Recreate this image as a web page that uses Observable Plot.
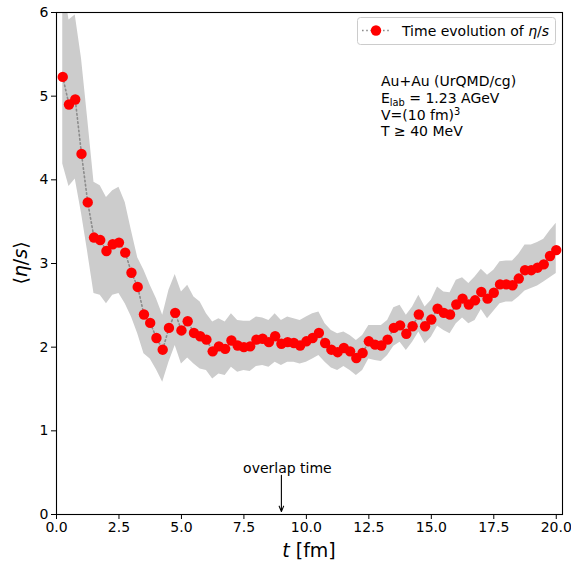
<!DOCTYPE html>
<html><head><meta charset="utf-8">
<script src="https://cdn.jsdelivr.net/npm/d3@7"></script>
<script src="https://cdn.jsdelivr.net/npm/@observablehq/plot@0.6"></script>
<style>
body{margin:0;background:#fff;}
#chart{position:relative;width:571px;height:561px;}
</style>
</head><body><div id="chart"></div>
<script>
// time [fm]
const t = [0.25,0.5,0.75,1.0,1.25,1.5,1.75,2.0,2.25,2.5,2.75,3.0,3.25,3.5,3.75,4.0,4.25,4.5,4.75,5.0,
  5.25,5.5,5.75,6.0,6.25,6.5,6.75,7.0,7.25,7.5,7.75,8.0,8.25,8.5,8.75,9.0,9.25,9.5,9.75,10.0,
  10.25,10.5,10.75,11.0,11.25,11.5,11.75,12.0,12.25,12.5,12.75,13.0,13.25,13.5,13.75,14.0,14.25,14.5,14.75,15.0,
  15.25,15.5,15.75,16.0,16.25,16.5,16.75,17.0,17.25,17.5,17.75,18.0,18.25,18.5,18.75,19.0,19.25,19.5,19.75,20.0];
// <eta/s> mean
const etaS = [5.23,4.90,4.96,4.31,3.73,3.31,3.28,3.15,3.23,3.25,3.13,2.89,2.72,2.39,2.29,2.11,1.97,2.23,2.41,2.20,
  2.31,2.17,2.13,2.09,1.95,2.01,1.98,2.08,2.02,2.00,2.01,2.09,2.10,2.06,2.13,2.04,2.06,2.05,2.02,2.07,
  2.11,2.17,2.05,1.97,1.94,1.99,1.95,1.87,1.93,2.07,2.03,2.02,2.09,2.23,2.26,2.16,2.25,2.39,2.25,2.33,
  2.46,2.41,2.39,2.51,2.58,2.51,2.56,2.66,2.58,2.65,2.75,2.75,2.74,2.82,2.92,2.92,2.95,2.99,3.09,3.16];
// band lower edge
const lower = [4.19,3.92,4.01,3.60,3.13,2.64,2.62,2.52,2.62,2.64,2.52,2.36,2.16,1.92,1.86,1.73,1.58,1.82,2.02,1.80,
  1.87,1.80,1.74,1.72,1.62,1.68,1.66,1.76,1.70,1.72,1.71,1.77,1.78,1.76,1.82,1.78,1.82,1.82,1.80,1.82,
  1.86,1.90,1.82,1.75,1.72,1.77,1.72,1.66,1.72,1.86,1.84,1.83,1.90,2.01,2.06,1.96,2.06,2.18,2.04,2.12,
  2.25,2.20,2.16,2.28,2.35,2.28,2.32,2.45,2.34,2.43,2.52,2.54,2.54,2.60,2.67,2.70,2.73,2.78,2.83,2.88];
// band upper edge
const upper = [6.40,5.91,5.97,5.45,4.72,3.97,3.93,3.79,3.87,3.91,3.73,3.39,3.07,2.92,2.74,2.58,2.38,2.68,2.87,2.66,
  2.74,2.60,2.54,2.40,2.30,2.34,2.30,2.40,2.32,2.31,2.31,2.36,2.35,2.32,2.40,2.32,2.36,2.34,2.32,2.36,
  2.40,2.42,2.28,2.20,2.16,2.18,2.14,2.08,2.14,2.26,2.26,2.26,2.32,2.47,2.50,2.38,2.48,2.62,2.48,2.56,
  2.72,2.66,2.65,2.80,2.83,2.76,2.84,2.93,2.86,2.92,3.02,3.03,3.03,3.11,3.22,3.22,3.25,3.29,3.39,3.48];

const xTicks = [0,2.5,5,7.5,10,12.5,15,17.5,20];
const yTicks = [0,1,2,3,4,5,6];
const overlapTime = 9.0;
const overlapLabel = "overlap time";
const legendText = "Time evolution of ";

const data = t.map((d,i)=>({t:d, v:etaS[i], lo:lower[i], hi:upper[i]}));
const arrowData = [{x:overlapTime, y1:0.47, y2:0.035}];

const W=571, H=561, mL=56, mT=12, mR=9, mB=47;
const FONT = "DejaVu Sans";
const FS = 14;

const svg = Plot.plot({
  width:W, height:H, marginLeft:mL, marginTop:mT, marginRight:mR, marginBottom:mB,
  style:{fontFamily:FONT, fontSize:FS+"px", color:"black", background:"white"},
  x:{domain:[0,20.25]},
  y:{domain:[0,6]},
  marks:[
    Plot.areaY(data,{x:"t", y1:"lo", y2:"hi", fill:"#cccccc", clip:true}),
    Plot.line(data,{x:"t", y:"v", stroke:"#8c8c8c", strokeWidth:1.6, strokeDasharray:"1.6,2.6", clip:true}),
    Plot.dot(data,{x:"t", y:"v", r:5.2, fill:"red", stroke:"none", clip:true}),
    Plot.arrow(arrowData,{x1:"x", x2:"x", y1:"y1", y2:"y2", stroke:"black", strokeWidth:1.1, headLength:8, headAngle:45}),
    Plot.text([overlapLabel],{x:overlapTime, y:0.55, dx:6, text:d=>d, fontSize:FS, fill:"black"}),
    Plot.frame({stroke:"black", strokeWidth:1.1}),
    Plot.axisX({ticks:xTicks, tickFormat:d3.format(".1f"), tickSize:5, tickPadding:3, label:null, fontSize:FS}),
    Plot.axisY({ticks:yTicks, tickFormat:d3.format("d"), tickSize:5, tickPadding:3, label:null, fontSize:FS})
  ]
});

const S = d3.select(svg);
// x label
const xl = S.append("text").attr("x", mL + (W-mL-mR)/2).attr("y", 557)
  .attr("text-anchor","middle").attr("font-family",FONT).attr("font-size",19).attr("fill","black");
xl.append("tspan").attr("font-style","italic").text("t");
xl.append("tspan").text(" [fm]");
// y label
const yl = S.append("text").attr("transform","translate(27,263) rotate(-90)")
  .attr("text-anchor","middle").attr("font-family",FONT).attr("font-size",19).attr("fill","black");
yl.append("tspan").text("\u27E8");
yl.append("tspan").attr("font-style","italic").text("\u03B7");
yl.append("tspan").text("/");
yl.append("tspan").attr("font-style","italic").text("s");
yl.append("tspan").text("\u27E9");

// info text
const info = S.append("g").attr("font-family",FONT).attr("font-size",FS).attr("fill","black").attr("text-anchor","start");
info.append("text").attr("x",381).attr("y",86).text("Au+Au (UrQMD/cg)");
const e = info.append("text").attr("x",381).attr("y",103);
e.append("tspan").text("E");
e.append("tspan").attr("font-size",9.8).attr("dy",3).text("lab");
e.append("tspan").attr("dy",-3).text(" = 1.23 AGeV");
const v = info.append("text").attr("x",381).attr("y",120);
v.append("tspan").text("V=(10 fm)");
v.append("tspan").attr("font-size",9.8).attr("dy",-5).text("3");
info.append("text").attr("x",381).attr("y",136).text("T \u2265 40 MeV");

// legend
const lg = S.append("g").attr("text-anchor","start");
lg.append("rect").attr("x",357.5).attr("y",17.5).attr("width",198).attr("height",27).attr("rx",3)
  .attr("fill","white").attr("fill-opacity",0.8).attr("stroke","#cccccc");
lg.append("line").attr("x1",362).attr("x2",390).attr("y1",30.5).attr("y2",30.5)
  .attr("stroke","#8c8c8c").attr("stroke-width",1.6).attr("stroke-dasharray","1.6,2.6");
lg.append("circle").attr("cx",376).attr("cy",30.5).attr("r",5.2).attr("fill","red");
const lt = lg.append("text").attr("x",402).attr("y",35.5).attr("font-family",FONT).attr("font-size",FS).attr("fill","black");
lt.append("tspan").text(legendText);
lt.append("tspan").attr("font-style","italic").text("\u03B7");
lt.append("tspan").text("/");
lt.append("tspan").attr("font-style","italic").text("s");

document.getElementById("chart").appendChild(svg);
</script>
</body></html>
